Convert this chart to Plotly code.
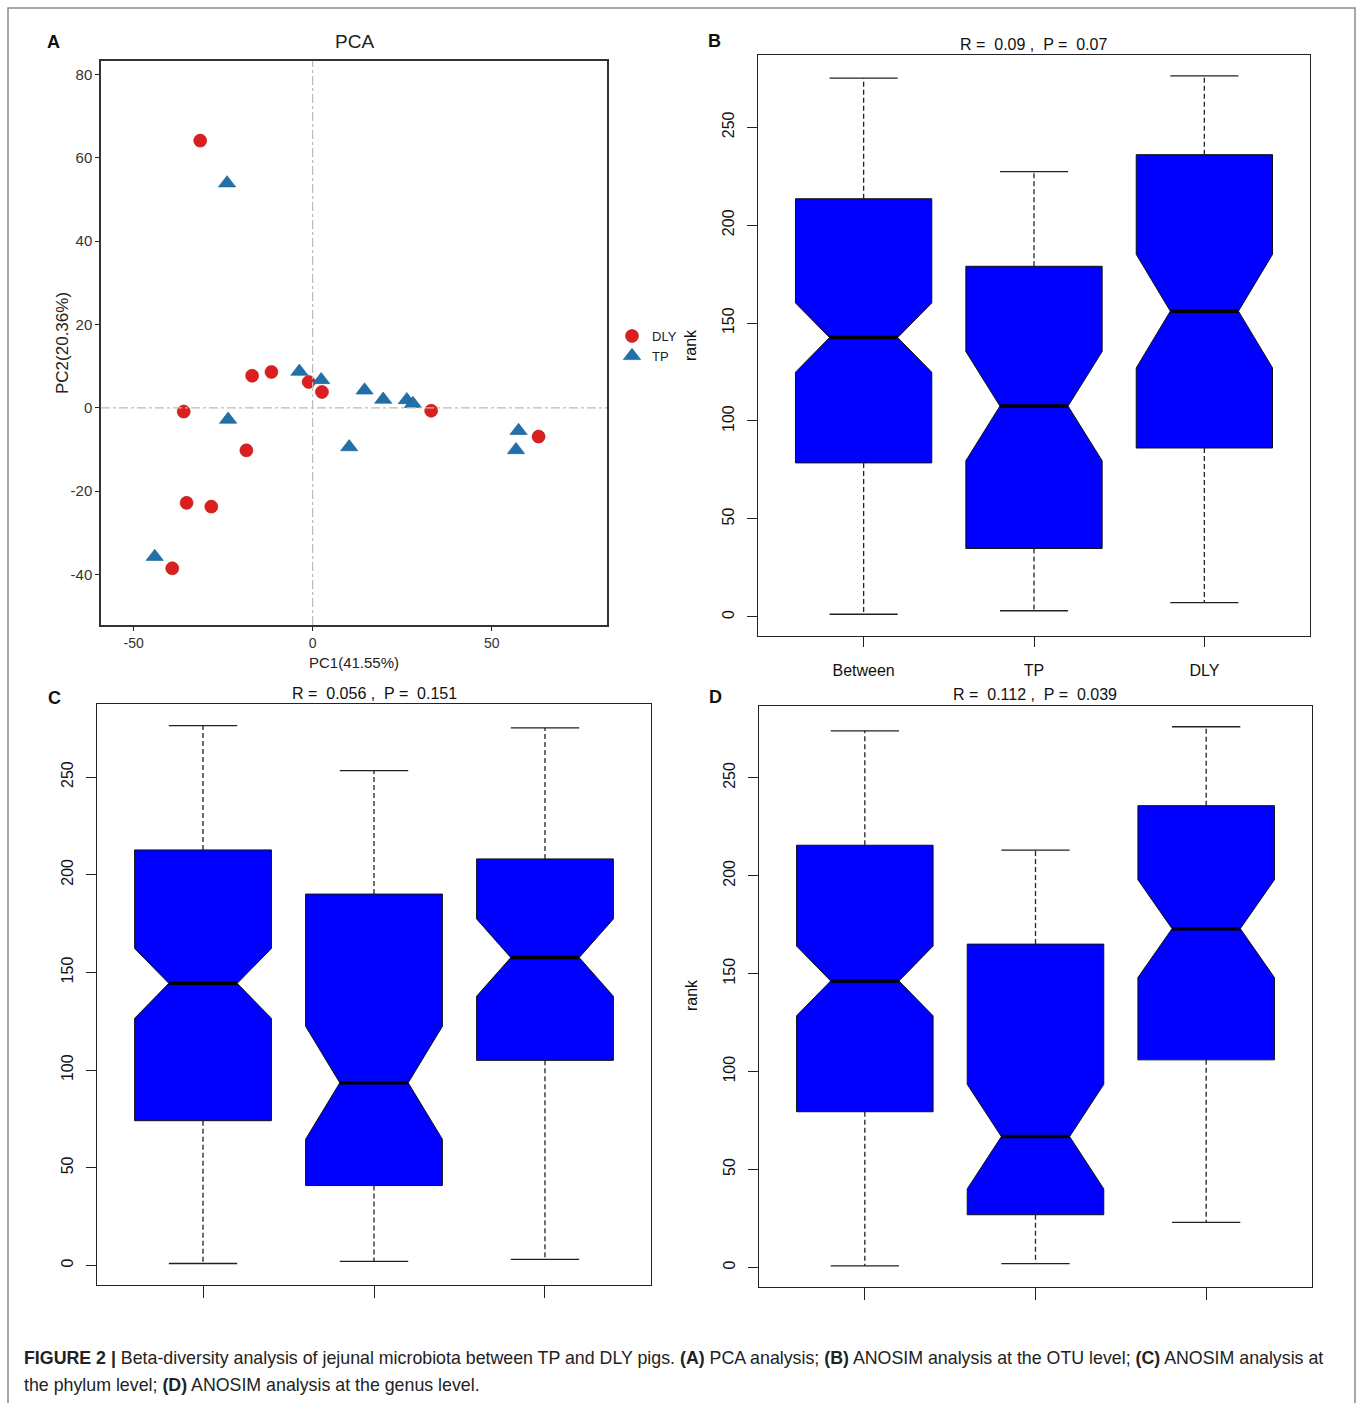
import plotly.graph_objects as go

W, H = 1360, 1403

# ---------------- Data ----------------
# Panel A: PCA scores
dly_pc1 = [-31.4, -16.9, -11.5, -1.1, 2.6, -36.0, -18.5, -35.2, -28.3, -39.2, 33.1, 63.1]
dly_pc2 = [64.1, 7.7, 8.6, 6.2, 3.8, -0.9, -10.2, -22.8, -23.7, -38.5, -0.7, -6.9]
tp_pc1 = [-23.9, -23.6, -3.7, 2.4, 14.5, 19.7, 26.3, 28.0, 10.2, 57.5, 56.8, -44.1]
tp_pc2 = [53.9, -2.8, 8.7, 6.7, 4.2, 2.0, 1.9, 1.0, -9.4, -5.5, -10.1, -35.7]
pca_x_ticks = [-50, 0, 50]
pca_x_labels = ["-50", "0", "50"]
pca_y_ticks = [-40, -20, 0, 20, 40, 60, 80]
pca_y_labels = ["-40", "-20", "0", "20", "40", "60", "80"]

groups = ["Between", "TP", "DLY"]

# Panel B: ANOSIM, OTU level
b_upper = [275.1, 227.3, 276.2]
b_q3 = [213.5, 179.0, 236.0]
b_median = [142.6, 107.6, 156.1]
b_q1 = [78.6, 34.9, 86.2]
b_lower = [1.3, 3.1, 7.2]
b_notch = [17.7, 27.9, 29.0]

# Panel C: ANOSIM, phylum level
c_upper = [276.3, 253.3, 275.2]
c_q3 = [212.7, 190.1, 208.1]
c_median = [144.4, 93.5, 157.6]
c_q1 = [74.1, 40.9, 105.0]
c_lower = [1.0, 2.1, 3.1]
c_notch = [17.9, 28.9, 19.8]

# Panel D: ANOSIM, genus level
d_upper = [274.0, 213.1, 276.1]
d_q3 = [215.6, 165.1, 235.8]
d_median = [146.3, 66.8, 173.0]
d_q1 = [79.5, 26.9, 106.0]
d_lower = [0.8, 1.9, 23.0]
d_notch = [17.8, 26.7, 25.0]

titles = {"B": "R =  0.09 ,  P =  0.07", "C": "R =  0.056 ,  P =  0.151", "D": "R =  0.112 ,  P =  0.039"}

FONT = "Liberation Sans, Arial, sans-serif"

def px_x(p):
    return p / W

def px_y(p):
    return 1 - p / H

fig = go.Figure()

# ---------------- Panel A ----------------
fig.add_trace(go.Scatter(x=dly_pc1, y=dly_pc2, mode="markers", name="DLY",
                         marker=dict(symbol="circle", size=13, color="#DD1E1E",
                                     line=dict(width=0.6, color="#B01515")),
                         xaxis="x", yaxis="y"))
fig.add_trace(go.Scatter(x=tp_pc1, y=tp_pc2, mode="markers", name="TP",
                         marker=dict(symbol="triangle-up", size=15, color="#2170AA",
                                     line=dict(width=0.6, color="#1A5A8A")),
                         xaxis="x", yaxis="y"))

# ---------------- Box panels ----------------
def add_box_panel(xa, ya, upper, q3, med, q1, lower, notch):
    xs = list(range(len(groups)))
    fig.add_trace(go.Box(x=xs, q1=q1, median=med, q3=q3, lowerfence=q1, upperfence=q3,
                         notched=True, notchspan=notch, notchwidth=0.25, width=0.8,
                         whiskerwidth=0, fillcolor="#0000FF",
                         line=dict(color="#111111", width=1),
                         showlegend=False, hoverinfo="skip", boxpoints=False,
                         xaxis=xa, yaxis=ya))
    wx, wy, cx, cy, mx, my = [], [], [], [], [], []
    for i in xs:
        wx += [i, i, None, i, i, None]
        wy += [q3[i], upper[i], None, q1[i], lower[i], None]
        cx += [i - 0.2, i + 0.2, None, i - 0.2, i + 0.2, None]
        cy += [upper[i], upper[i], None, lower[i], lower[i], None]
        mx += [i - 0.2, i + 0.2, None]
        my += [med[i], med[i], None]
    fig.add_trace(go.Scatter(x=wx, y=wy, mode="lines", showlegend=False, hoverinfo="skip",
                             line=dict(color="#222222", width=1.3, dash="5px,3px"),
                             xaxis=xa, yaxis=ya))
    fig.add_trace(go.Scatter(x=cx, y=cy, mode="lines", showlegend=False, hoverinfo="skip",
                             line=dict(color="#222222", width=1.3), xaxis=xa, yaxis=ya))
    fig.add_trace(go.Scatter(x=mx, y=my, mode="lines", showlegend=False, hoverinfo="skip",
                             line=dict(color="#000000", width=3.5), xaxis=xa, yaxis=ya))

add_box_panel("x2", "y2", b_upper, b_q3, b_median, b_q1, b_lower, b_notch)
add_box_panel("x3", "y3", c_upper, c_q3, c_median, c_q1, c_lower, c_notch)
add_box_panel("x4", "y4", d_upper, d_q3, d_median, d_q1, d_lower, d_notch)

# ---------------- Axes ----------------
def frame_axis(**kw):
    base = dict(showline=True, mirror=True, linecolor="#222222", linewidth=1.3,
                showgrid=False, zeroline=False, ticks="outside", tickcolor="#222222",
                tickfont=dict(family=FONT, size=16, color="#111111"))
    base.update(kw)
    return base

box_y_ticks = [0, 50, 100, 150, 200, 250]

fig.update_layout(
    width=W, height=H, margin=dict(l=0, r=0, t=0, b=0),
    paper_bgcolor="white", plot_bgcolor="white",
    font=dict(family=FONT, color="#111111"),
    xaxis=frame_axis(domain=[px_x(101), px_x(607)], range=[-59.1, 82.2], anchor="y",
                     tickvals=pca_x_ticks, ticktext=pca_x_labels, ticklen=4,
                     linecolor="#333333", linewidth=1.5,
                     tickfont=dict(family=FONT, size=14, color="#333333")),
    yaxis=frame_axis(domain=[px_y(625), px_y(61)], range=[-52.1, 83.2], anchor="x",
                     tickvals=pca_y_ticks, ticktext=pca_y_labels, ticklen=4,
                     linecolor="#333333", linewidth=1.5,
                     tickfont=dict(family=FONT, size=15, color="#333333")),
    xaxis2=frame_axis(domain=[px_x(758), px_x(1310)], range=[-0.62, 2.62], anchor="y2",
                      tickvals=[0, 1, 2], ticktext=groups, ticklen=10, ticklabelstandoff=10),
    yaxis2=frame_axis(domain=[px_y(636), px_y(55)], range=[-9.8, 286.9], anchor="x2",
                      tickvals=box_y_ticks, tickangle=-90, ticklen=10, ticklabelstandoff=6),
    xaxis3=frame_axis(domain=[px_x(97), px_x(651)], range=[-0.62, 2.62], anchor="y3",
                      tickvals=[0, 1, 2], showticklabels=False, ticklen=12),
    yaxis3=frame_axis(domain=[px_y(1285), px_y(704)], range=[-10.0, 287.4], anchor="x3",
                      tickvals=box_y_ticks, tickangle=-90, ticklen=10, ticklabelstandoff=6),
    xaxis4=frame_axis(domain=[px_x(759), px_x(1312)], range=[-0.62, 2.62], anchor="y4",
                      tickvals=[0, 1, 2], showticklabels=False, ticklen=12),
    yaxis4=frame_axis(domain=[px_y(1287), px_y(706)], range=[-10.0, 286.7], anchor="x4",
                      tickvals=box_y_ticks, tickangle=-90, ticklen=10, ticklabelstandoff=6),
    legend=dict(x=px_x(612), y=px_y(321), xanchor="left", yanchor="top",
                font=dict(family=FONT, size=13, color="#222222"),
                bgcolor="rgba(0,0,0,0)", tracegroupgap=0, itemwidth=30),
    showlegend=True,
)

# Reference lines in panel A
fig.add_shape(type="line", xref="x", yref="y domain", x0=0, x1=0, y0=0, y1=1,
              line=dict(color="#BBBBBB", width=1.2, dash="dashdot"))
fig.add_shape(type="line", xref="x domain", yref="y", x0=0, x1=1, y0=0, y1=0,
              line=dict(color="#BBBBBB", width=1.2, dash="dashdot"))

# Outer figure frame
fig.add_shape(type="rect", xref="paper", yref="paper", x0=px_x(8), x1=px_x(1355),
              y0=-0.02, y1=px_y(8), line=dict(color="#8A8A8A", width=1.5), layer="below")

ann = []

def text(x, y, s, size=16, bold=False, angle=0, xanchor="center", color="#111111"):
    ann.append(dict(x=px_x(x), y=px_y(y), xref="paper", yref="paper", text=(f"<b>{s}</b>" if bold else s),
                    showarrow=False, textangle=angle, xanchor=xanchor, yanchor="middle",
                    font=dict(family=FONT, size=size, color=color)))

# Panel letters
text(53, 42, "A", 18, bold=True)
text(714, 41, "B", 18, bold=True)
text(54, 698, "C", 18, bold=True)
text(715, 697, "D", 18, bold=True)

# Panel A titles
text(354, 42, "PCA", 19, color="#222222")
text(354, 662, "PC1(41.55%)", 15, color="#222222")
text(62, 343, "PC2(20.36%)", 17, angle=-90, color="#222222")

# Box panel titles
text(1033, 44, titles["B"], 16)
text(374, 693, titles["C"], 16)
text(1035, 695, titles["D"], 16)
text(690, 345, "rank", 16, angle=-90)
text(692, 995, "rank", 16, angle=-90)

# Caption
cap1 = ("<b>FIGURE 2 |</b> Beta-diversity analysis of jejunal microbiota between TP and DLY pigs. "
        "<b>(A)</b> PCA analysis; <b>(B)</b> ANOSIM analysis at the OTU level; <b>(C)</b> ANOSIM analysis at")
cap2 = "the phylum level; <b>(D)</b> ANOSIM analysis at the genus level."
text(22, 1358, cap1, 17.8, xanchor="left", color="#222222")
text(22, 1385, cap2, 17.8, xanchor="left", color="#222222")

fig.update_layout(annotations=ann)

fig.write_html("out.html")
